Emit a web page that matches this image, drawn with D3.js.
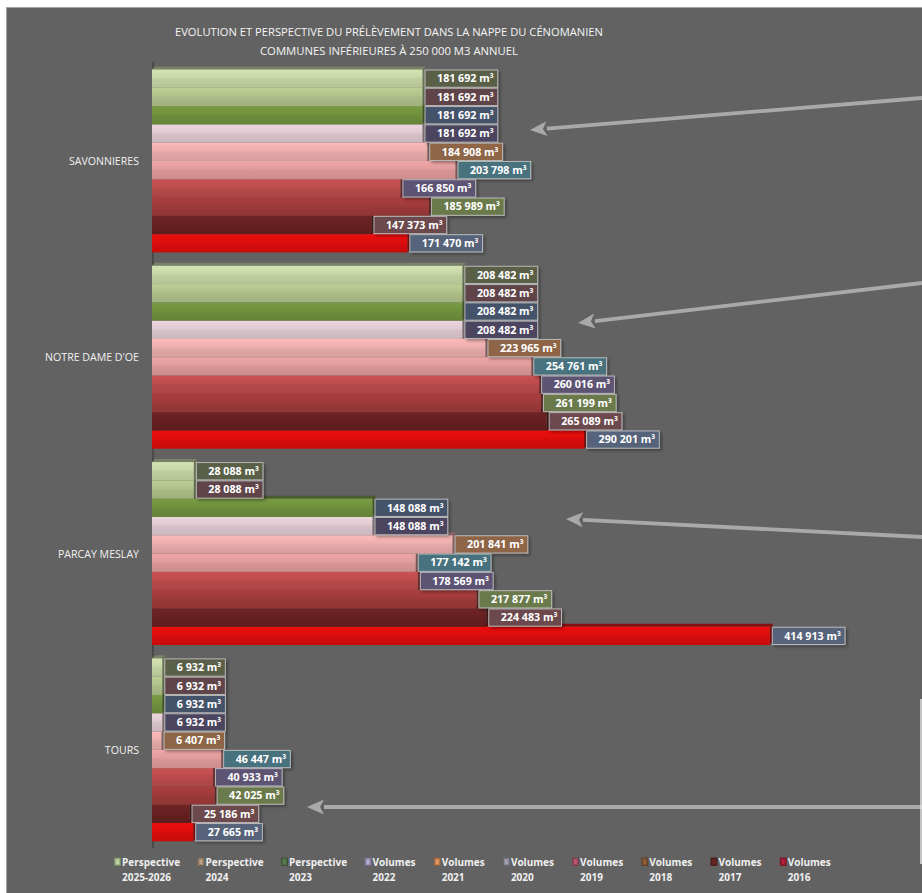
<!DOCTYPE html>
<html><head><meta charset="utf-8">
<script src="https://cdn.jsdelivr.net/npm/d3@7"></script>
<style>body{margin:0;background:#fff}svg{display:block}</style>
</head><body><svg id="c" width="922" height="893"></svg>
<script>
// ---------- DATA ----------
const titleLines = ["EVOLUTION ET PERSPECTIVE DU PRÉLÈVEMENT DANS LA NAPPE DU CÉNOMANIEN",
                    "COMMUNES INFÉRIEURES À 250 000 M3 ANNUEL"];
const categories = ["SAVONNIERES", "NOTRE DAME D'OE", "PARCAY MESLAY", "TOURS"];
const seriesNames = ["Perspective 2025-2026", "Perspective 2024", "Perspective 2023", "Volumes 2022",
  "Volumes 2021", "Volumes 2020", "Volumes 2019", "Volumes 2018", "Volumes 2017", "Volumes 2016"];
const perspective20252026 = [181692, 208482, 28088, 6932];
const perspective2024     = [181692, 208482, 28088, 6932];
const perspective2023     = [181692, 208482, 148088, 6932];
const volumes2022         = [181692, 208482, 148088, 6932];
const volumes2021         = [184908, 223965, 201841, 6407];
const volumes2020         = [203798, 254761, 177142, 46447];
const volumes2019         = [166850, 260016, 178569, 40933];
const volumes2018         = [185989, 261199, 217877, 42025];
const volumes2017         = [147373, 265089, 224483, 25186];
const volumes2016         = [171470, 290201, 414913, 27665];
const seriesValues = [perspective20252026, perspective2024, perspective2023, volumes2022, volumes2021,
  volumes2020, volumes2019, volumes2018, volumes2017, volumes2016];
const barColors = ["#bfcd9f", "#a9ba85", "#6c8b3c", "#d6c0c8", "#e2a7a6", "#d79595",
  "#b5494a", "#993838", "#631f1f", "#d40c0c"];
const labelColors = ["#5a5e46", "#5e4548", "#44536a", "#4b4560", "#8e6546", "#47727e",
  "#5d5373", "#6b7a4c", "#6c4a4d", "#56647a"];
const legendColors = ["#9fb587", "#a08870", "#4c6a44", "#9a90b0", "#c08050", "#8a8898",
  "#9a4a60", "#7a5030", "#5a2020", "#9a1a30"];

// ---------- CHART ----------
const W = 922, H = 893;
const svg = d3.select("#c");
const defs = svg.append("defs");
const FONT = "'Open Sans', 'DejaVu Sans', sans-serif";

// page background + panel
svg.append("rect").attr("width", W).attr("height", H).attr("fill", "#ffffff");
svg.append("rect").attr("x", 6.5).attr("y", 7.5).attr("width", W).attr("height", H)
  .attr("fill", "#626262").attr("stroke", "#a3a3a3").attr("stroke-width", 1);

// title
const titleWidths = [428, 258];
svg.append("g").selectAll("text").data(titleLines).join("text")
  .attr("x", 389).attr("y", (d, i) => 36 + i * 19)
  .attr("text-anchor", "middle").attr("fill", "#f4f4f4")
  .attr("font-family", FONT).attr("font-size", 11.6)
  .attr("textLength", (d, i) => titleWidths[i]).attr("lengthAdjust", "spacingAndGlyphs")
  .text(d => d);

const x = d3.scaleLinear().domain([0, 450000]).range([152, 822]);
const y = d3.scaleBand().domain(categories).range([62.8, 848]).paddingInner(0.068).paddingOuter(0.034);
const ySub = d3.scaleBand().domain(seriesNames).range([0, y.bandwidth()]);
const rowH = ySub.bandwidth();

// gradients
barColors.forEach((c, j) => {
  const g = defs.append("linearGradient").attr("id", "g" + j).attr("x1", 0).attr("y1", 0).attr("x2", 0).attr("y2", 1);
  const base = d3.color(c);
  g.append("stop").attr("offset", "0%").attr("stop-color", base.brighter(0.3));
  g.append("stop").attr("offset", "40%").attr("stop-color", base.brighter(0.15));
  g.append("stop").attr("offset", "55%").attr("stop-color", base);
  g.append("stop").attr("offset", "100%").attr("stop-color", base.darker(0.15));
});
const shadow = defs.append("filter").attr("id", "sh").attr("x", "-10%").attr("y", "-20%").attr("width", "130%").attr("height", "160%");
shadow.append("feDropShadow").attr("dx", 2).attr("dy", 2).attr("stdDeviation", 1.5).attr("flood-color", "#000").attr("flood-opacity", 0.35);

// axis line
svg.append("line").attr("x1", 153).attr("x2", 153).attr("y1", 62).attr("y2", 848)
  .attr("stroke", "#4a4a4a").attr("stroke-width", 2);

// category labels
svg.append("g").selectAll("text").data(categories).join("text")
  .attr("x", 139).attr("y", d => y(d) + y.bandwidth() / 2 + 4)
  .attr("text-anchor", "end").attr("fill", "#f0f0f0")
  .attr("font-family", FONT).attr("font-size", 10.6).text(d => d);

// bars (drawn bottom-up so 3D top faces are covered by the bar above)
const depth = 3;
const cells = [];
seriesNames.forEach((s, j) => categories.forEach((c, i) => cells.push({ s, j, c, i, v: seriesValues[j][i] })));
const barG = svg.append("g");
const ordered = cells.slice().sort((a, b) => (b.j - a.j));
ordered.forEach(d => {
  const x0 = x(0), x1 = x(d.v);
  const y0 = y(d.c) + ySub(d.s), y1 = y0 + rowH;
  const base = d3.color(barColors[d.j]);
  barG.append("path")
    .attr("d", `M${x1},${y0} L${x1 + depth},${y0 - depth} L${x1 + depth},${y1 - depth} L${x1},${y1} Z`)
    .attr("fill", base.darker(1.6)).attr("opacity", 0.9);
  barG.append("path")
    .attr("d", `M${x0},${y0} L${x0 + depth},${y0 - depth} L${x1 + depth},${y0 - depth} L${x1},${y0} Z`)
    .attr("fill", base.darker(1.2)).attr("opacity", 0.9);
  barG.append("rect").attr("x", x0).attr("y", y0).attr("width", x1 - x0).attr("height", rowH)
    .attr("fill", `url(#g${d.j})`);
});

// labels
const fr = d3.formatLocale({ decimal: ",", thousands: " ", grouping: [3], currency: ["", ""] });
const fmt = fr.format(",d");
const labG = svg.append("g");
cells.forEach(d => {
  const bx = x(d.v) + 2.5;
  const y0 = y(d.c) + ySub(d.s);
  const g = labG.append("g");
  const rect = g.append("rect").attr("x", bx).attr("y", y0 + 0.5).attr("height", rowH - 1)
    .attr("fill", labelColors[d.j]).attr("stroke", "#c9c9c9").attr("stroke-opacity", 0.85)
    .attr("stroke-width", 1).attr("filter", "url(#sh)");
  const t = g.append("text").attr("y", y0 + rowH / 2 + 3.7)
    .attr("text-anchor", "end").attr("fill", "#ffffff").attr("font-family", FONT)
    .attr("font-size", 10.7).attr("font-weight", 700).text(fmt(d.v) + " m³");
  const tw = t.node().getComputedTextLength();
  const bw = tw + 16;
  rect.attr("width", bw);
  t.attr("x", bx + bw - 4);
});

// legend
const legG = svg.append("g");
seriesNames.forEach((s, j) => {
  const lx = 114.5 + (j < 3 ? j * 83.5 : 3 * 83.5 + (j - 3) * 69.2);
  const parts = s.split(" ");
  legG.append("rect").attr("x", lx).attr("y", 858).attr("width", 6).attr("height", 7.5)
    .attr("fill", legendColors[j]).attr("stroke", d3.color(legendColors[j]).darker(0.8)).attr("stroke-width", 0.8);
  legG.append("rect").attr("x", lx + 1.8).attr("y", 859.5).attr("width", 2.4).attr("height", 4.5)
    .attr("fill", d3.color(legendColors[j]).brighter(0.8)).attr("opacity", 0.6);
  const t = legG.append("text").attr("font-family", FONT).attr("font-size", 10).attr("font-weight", 700)
    .attr("fill", "#f0f0f0");
  t.append("tspan").attr("x", lx + 7.5).attr("y", 866).text(parts[0]);
  t.append("tspan").attr("x", lx + 7.5).attr("y", 881).text(parts.slice(1).join(" "));
});

// annotation arrows
const arrows = [
  { from: [922, 98], to: [530, 130] },
  { from: [922, 283], to: [578, 323] },
  { from: [922, 537], to: [566, 519] },
  { from: [922, 807], to: [307, 807] }
];
const arrG = svg.append("g");
arrows.forEach(a => {
  const [fx, fy] = a.from, [tx, ty] = a.to;
  const ang = Math.atan2(fy - ty, fx - tx);
  const L = 17, hw = 7.5;
  const bx = tx + L * Math.cos(ang), by = ty + L * Math.sin(ang);
  arrG.append("line").attr("x1", fx).attr("y1", fy).attr("x2", bx).attr("y2", by)
    .attr("stroke", "#a9a9a9").attr("stroke-width", 3.8);
  const px = -Math.sin(ang) * hw, py = Math.cos(ang) * hw;
  arrG.append("path")
    .attr("d", `M${tx},${ty} L${bx + px},${by + py} L${tx + (L - 4) * Math.cos(ang)},${ty + (L - 4) * Math.sin(ang)} L${bx - px},${by - py} Z`)
    .attr("fill", "#a9a9a9");
});

// edge of a neighbouring frame at the right border
svg.append("line").attr("x1", 921).attr("x2", 921).attr("y1", 699).attr("y2", 864)
  .attr("stroke", "#e6e6e6").attr("stroke-width", 1.5);
</script></body></html>
